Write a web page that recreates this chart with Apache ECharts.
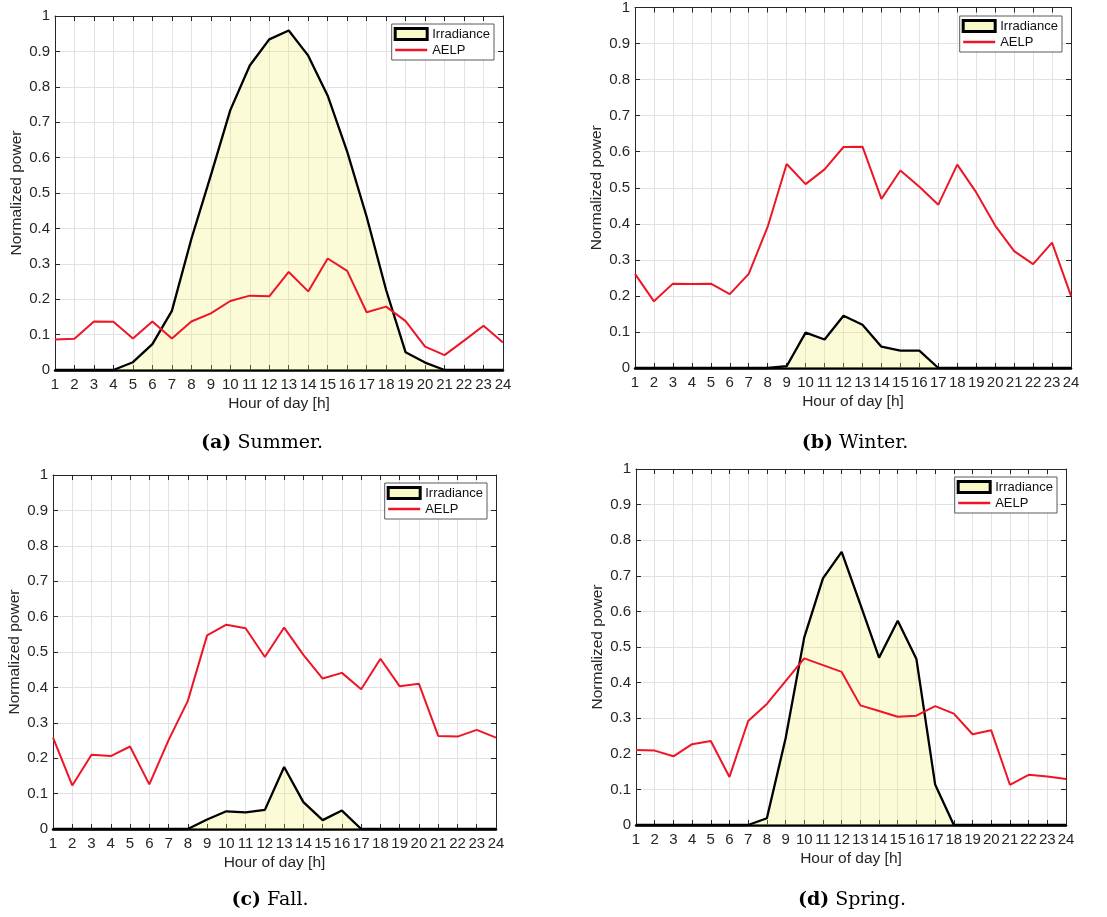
<!DOCTYPE html>
<html>
<head>
<meta charset="utf-8">
<script src="https://cdn.jsdelivr.net/npm/echarts@6/dist/echarts.min.js"></script>
<style>
html,body{margin:0;padding:0;background:#fff;}
#chart{width:1107px;height:917px;}
</style>
</head>
<body>
<div id="chart"></div>
<script>
// ---- data ----
const hours = ['1','2','3','4','5','6','7','8','9','10','11','12','13','14','15','16','17','18','19','20','21','22','23','24'];
const yTicks = ['0','0.1','0.2','0.3','0.4','0.5','0.6','0.7','0.8','0.9','1'];

const summerIrradiance = [0,0,0,0,0.022,0.073,0.167,0.37,0.55,0.734,0.86,0.934,0.959,0.888,0.775,0.617,0.433,0.226,0.05,0.021,0,0,0,0];
const summerAELP = [0.086,0.088,0.137,0.136,0.089,0.137,0.089,0.137,0.16,0.195,0.21,0.208,0.277,0.222,0.315,0.28,0.163,0.179,0.138,0.066,0.042,0.083,0.125,0.078];

const winterIrradiance = [0,0,0,0,0,0,0,0,0.005,0.098,0.079,0.145,0.12,0.059,0.048,0.048,0,0,0,0,0,0,0,0];
const winterAELP = [0.261,0.185,0.234,0.233,0.234,0.205,0.261,0.392,0.566,0.51,0.551,0.613,0.614,0.469,0.548,0.503,0.453,0.564,0.487,0.395,0.324,0.288,0.348,0.2];

const fallIrradiance = [0,0,0,0,0,0,0,0,0.027,0.05,0.047,0.054,0.175,0.076,0.025,0.052,0,0,0,0,0,0,0,0];
const fallAELP = [0.258,0.123,0.21,0.206,0.233,0.126,0.251,0.362,0.547,0.577,0.567,0.486,0.569,0.492,0.425,0.441,0.395,0.481,0.403,0.41,0.263,0.261,0.28,0.258];

const springIrradiance = [0,0,0,0,0,0,0,0.019,0.243,0.527,0.693,0.767,0.62,0.47,0.574,0.466,0.114,0,0,0,0,0,0,0];
const springAELP = [0.211,0.209,0.193,0.227,0.236,0.135,0.292,0.34,0.404,0.468,0.449,0.43,0.336,0.32,0.304,0.307,0.334,0.313,0.255,0.266,0.113,0.141,0.136,0.129];

const captions = [
  {tag:'(a)', name:'Summer.'},
  {tag:'(b)', name:'Winter.'},
  {tag:'(c)', name:'Fall.'},
  {tag:'(d)', name:'Spring.'}
];
const seriesNames = ['Irradiance','AELP'];
const xName = 'Hour of day [h]';
const yName = 'Normalized power';

// ---- layout ----
const panels = [
  {irr: summerIrradiance, aelp: summerAELP, grid:{left:55, top:16, width:448, height:354}, legend:{right:613, top:24}, cap:{x:262, y:443}},
  {irr: winterIrradiance, aelp: winterAELP, grid:{left:635, top:7, width:436, height:361}, legend:{right:45, top:16}, cap:{x:855, y:443}},
  {irr: fallIrradiance, aelp: fallAELP, grid:{left:53, top:475, width:443, height:354}, legend:{right:620, top:483}, cap:{x:270, y:900}},
  {irr: springIrradiance, aelp: springAELP, grid:{left:636, top:469, width:430, height:356}, legend:{right:50, top:477}, cap:{x:852, y:900}}
];

const AX = '#262626';
const GRIDC = '#e2e2e2';
const RED = '#ee1526';
const FONT = 'Liberation Sans';

const grids = [], xAxes = [], yAxes = [], series = [], legends = [], graphics = [];

panels.forEach((p, i) => {
  grids.push(Object.assign({show:false}, p.grid));
  // bottom x
  xAxes.push({
    type:'category', gridIndex:i, data:hours, boundaryGap:false, position:'bottom',
    name:xName, nameLocation:'middle', nameGap:26,
    nameTextStyle:{fontFamily:FONT, fontSize:15.5, color:AX},
    axisLine:{show:true, onZero:false, lineStyle:{color:'#000', width:2.5}},
    axisTick:{show:true, inside:true, length:5, interval:0, lineStyle:{color:AX}},
    axisLabel:{show:true, interval:0, margin:7, fontFamily:FONT, fontSize:15, color:AX},
    splitLine:{show:true, interval:0, lineStyle:{color:GRIDC, width:1}}
  });
  // top x (ticks only)
  xAxes.push({
    type:'category', gridIndex:i, data:hours, boundaryGap:false, position:'top',
    axisLine:{show:true, onZero:false, lineStyle:{color:AX, width:1}},
    axisTick:{show:true, inside:true, length:5, interval:0, lineStyle:{color:AX}},
    axisLabel:{show:false}, splitLine:{show:false}
  });
  // left y
  yAxes.push({
    type:'value', gridIndex:i, min:0, max:1, interval:0.1, position:'left',
    name:yName, nameLocation:'middle', nameGap:30, nameRotate:90,
    nameTextStyle:{fontFamily:FONT, fontSize:15.5, color:AX},
    axisLine:{show:true, onZero:false, lineStyle:{color:AX, width:1}},
    axisTick:{show:true, inside:true, length:5, lineStyle:{color:AX}},
    axisLabel:{show:true, margin:5, fontFamily:FONT, fontSize:15, color:AX,
      formatter:(v)=> yTicks[Math.round(v*10)]},
    splitLine:{show:true, lineStyle:{color:GRIDC, width:1}}
  });
  // right y (ticks only)
  yAxes.push({
    type:'value', gridIndex:i, min:0, max:1, interval:0.1, position:'right',
    axisLine:{show:true, onZero:false, lineStyle:{color:AX, width:1}},
    axisTick:{show:true, inside:true, length:5, lineStyle:{color:AX}},
    axisLabel:{show:false}, splitLine:{show:false}
  });
  series.push({
    name:seriesNames[0], type:'line', xAxisIndex:2*i, yAxisIndex:2*i, data:p.irr,
    symbol:'none', clip:false, z:2,
    lineStyle:{color:'#000', width:2.3},
    itemStyle:{color:'#000'},
    areaStyle:{color:'rgba(240,240,95,0.36)', origin:'start'}
  });
  series.push({
    name:seriesNames[1], type:'line', xAxisIndex:2*i, yAxisIndex:2*i, data:p.aelp,
    symbol:'none', z:3,
    lineStyle:{color:RED, width:2},
    itemStyle:{color:RED}
  });
  legends.push({
    orient:'vertical', right:p.legend.right, top:p.legend.top,
    backgroundColor:'#fff', borderColor:'#5a5a5a', borderWidth:1,
    padding:[3,4,3,2], itemGap:2, itemWidth:32, itemHeight:11,
    selectedMode:false,
    textStyle:{fontFamily:FONT, fontSize:13, color:'#111', lineHeight:14},
    data:[
      {name:seriesNames[0], icon:'rect', itemStyle:{color:'#fafac6', borderColor:'#000', borderWidth:3}},
      {name:seriesNames[1], icon:'path://M0,0L32,0L32,2.4L0,2.4Z', itemStyle:{color:RED, borderWidth:0}}
    ]
  });
  graphics.push({
    type:'text', x:p.cap.x, y:p.cap.y,
    style:{
      text:'{b|' + captions[i].tag + '} ' + captions[i].name,
      font:'19px "DejaVu Serif"', fill:'#000', textAlign:'center', textVerticalAlign:'middle',
      rich:{b:{font:'bold 19px "DejaVu Serif"', fill:'#000'}}
    }
  });
});

const chart = echarts.init(document.getElementById('chart'), null, {renderer:'canvas'});
chart.setOption({
  backgroundColor:'#fff',
  animation:false,
  grid:grids, xAxis:xAxes, yAxis:yAxes, series:series, legend:legends,
  graphic:graphics
});
</script>
</body>
</html>
